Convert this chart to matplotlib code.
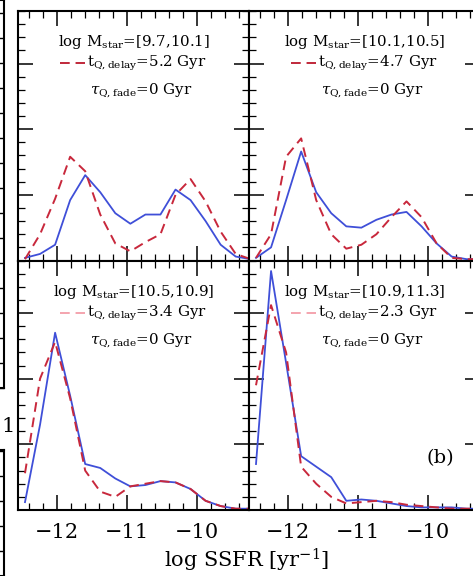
#coding: utf-8
import matplotlib
matplotlib.use('Agg')
import matplotlib.pyplot as plt
from matplotlib.ticker import MultipleLocator
import numpy as np

plt.rcParams['font.family'] = ['DejaVu Serif']
plt.rcParams['mathtext.fontset'] = 'dejavuserif'

# bin centres of log SSFR
ssfr = [-12.45, -12.235, -12.02, -11.805, -11.59, -11.375, -11.16, -10.945,
        -10.73, -10.515, -10.30, -10.085, -9.87, -9.655, -9.44, -9.225]

# panel 1: log Mstar = [9.7,10.1]
blue_1 = [0.02, 0.05, 0.12, 0.46, 0.65, 0.52, 0.36, 0.28, 0.35, 0.35, 0.54, 0.46, 0.30, 0.12, 0.03, 0.01]
red_1 = [0.01, 0.20, 0.47, 0.79, 0.68, 0.35, 0.13, 0.07, 0.14, 0.20, 0.50, 0.62, 0.45, 0.22, 0.05, 0.01]
# panel 2: log Mstar = [10.1,10.5]
blue_2 = [0.02, 0.10, 0.46, 0.83, 0.52, 0.36, 0.26, 0.25, 0.31, 0.35, 0.37, 0.26, 0.13, 0.03, 0.01, 0.01]
red_2 = [0.02, 0.20, 0.79, 0.93, 0.46, 0.20, 0.09, 0.12, 0.20, 0.33, 0.45, 0.33, 0.13, 0.02, 0.01, 0.01]
# panel 3: log Mstar = [10.5,10.9]
blue_3 = [0.06, 0.65, 1.35, 0.87, 0.35, 0.32, 0.24, 0.18, 0.19, 0.22, 0.21, 0.16, 0.07, 0.03, 0.01, 0.01]
red_3 = [0.28, 1.00, 1.28, 0.85, 0.30, 0.14, 0.10, 0.18, 0.20, 0.22, 0.21, 0.16, 0.07, 0.03, 0.01, 0.01]
# panel 4: log Mstar = [10.9,11.3]
blue_4 = [0.35, 1.82, 1.12, 0.41, 0.33, 0.25, 0.07, 0.08, 0.07, 0.05, 0.03, 0.02, 0.02, 0.02, 0.01, 0.01]
red_4 = [0.95, 1.56, 1.20, 0.33, 0.20, 0.10, 0.05, 0.06, 0.07, 0.06, 0.04, 0.03, 0.02, 0.01, 0.01, 0.01]

mass_bins = ['[9.7,10.1]', '[10.1,10.5]', '[10.5,10.9]', '[10.9,11.3]']
t_delay = ['5.2', '4.7', '3.4', '2.3']
xticks = [-12, -11, -10]
xticklabels = ['\u221212', '\u221211', '\u221210']

W, H = 473.0, 576.0
fig = plt.figure(figsize=(W / 100, H / 100), dpi=100)

# panel boxes in pixels: left, top, width, height
pw, ph = 231.0, 249.5
boxes = [(18, 11), (249, 11), (18, 260.5), (249, 260.5)]
blues = [blue_1, blue_2, blue_3, blue_4]
reds = [red_1, red_2, red_3, red_4]
leg_col = ['#c0283a', '#c0283a', '#f4a4ae', '#f4a4ae']

for i in range(4):
    l, t = boxes[i]
    ax = fig.add_axes([l / W, 1 - (t + ph) / H, pw / W, ph / H])
    ax.plot(ssfr, blues[i], '-', color='#3f4fd8', linewidth=1.3)
    ax.plot(ssfr, reds[i], '--', color='#c8283c', linewidth=1.4, dashes=(5, 3))
    ax.set_xlim(-12.55, -9.25)
    ax.set_ylim(0, 1.9)
    ax.xaxis.set_major_locator(MultipleLocator(1))
    ax.xaxis.set_minor_locator(MultipleLocator(0.2))
    ax.yaxis.set_major_locator(MultipleLocator(0.5))
    ax.yaxis.set_minor_locator(MultipleLocator(0.1))
    ax.tick_params(which='both', direction='in', top=True, right=True, labelleft=False)
    ax.tick_params(which='major', length=11, width=1.1)
    ax.tick_params(which='minor', length=5, width=0.9)
    for s in ax.spines.values():
        s.set_linewidth(1.5)
    if i < 2:
        ax.tick_params(labelbottom=False)
    else:
        ax.set_xticks(xticks)
        ax.set_xticklabels(xticklabels, fontsize=15)
        ax.tick_params(axis='x', which='major', pad=9)
    ax.text(0.5, 0.875, r'log M$_{\rm star}$=' + mass_bins[i], transform=ax.transAxes,
            ha='center', va='center', fontsize=10.8)
    ax.plot([0.18, 0.29], [0.79, 0.79], '--', color=leg_col[i], linewidth=1.4,
            dashes=(5, 3), transform=ax.transAxes)
    ax.text(0.30, 0.79, r't$_{\rm Q,delay}$=' + t_delay[i] + ' Gyr', transform=ax.transAxes,
            ha='left', va='center', fontsize=10.8)
    ax.text(0.31, 0.68, r'$\tau_{\rm Q,fade}$=0 Gyr', transform=ax.transAxes,
            ha='left', va='center', fontsize=10.8)
    if i == 3:
        ax.text(0.83, 0.21, '(b)', transform=ax.transAxes, ha='center', va='center', fontsize=14)

fig.text(247 / W, 1 - 560 / H, r'log SSFR [yr$^{-1}$]', ha='center', va='center', fontsize=15)

# bits of the neighbouring panel at the left edge
for top, bot in [(0, 388), (450, 576)]:
    axl = fig.add_axes([-0.2, 1 - bot / H, 0.2 + 4 / W, (bot - top) / H])
    axl.set_xticks([])
    axl.set_ylim(0, (bot - top) / 25.0)
    axl.yaxis.set_major_locator(MultipleLocator(1))
    axl.tick_params(axis='y', direction='in', left=False, right=True, labelleft=False,
                    length=4, width=1)
    for s in axl.spines.values():
        s.set_linewidth(1.5)
fig.text(1 / W, 1 - 427 / H, '1', ha='left', va='center', fontsize=15)

plt.savefig('out.png', dpi=100)
